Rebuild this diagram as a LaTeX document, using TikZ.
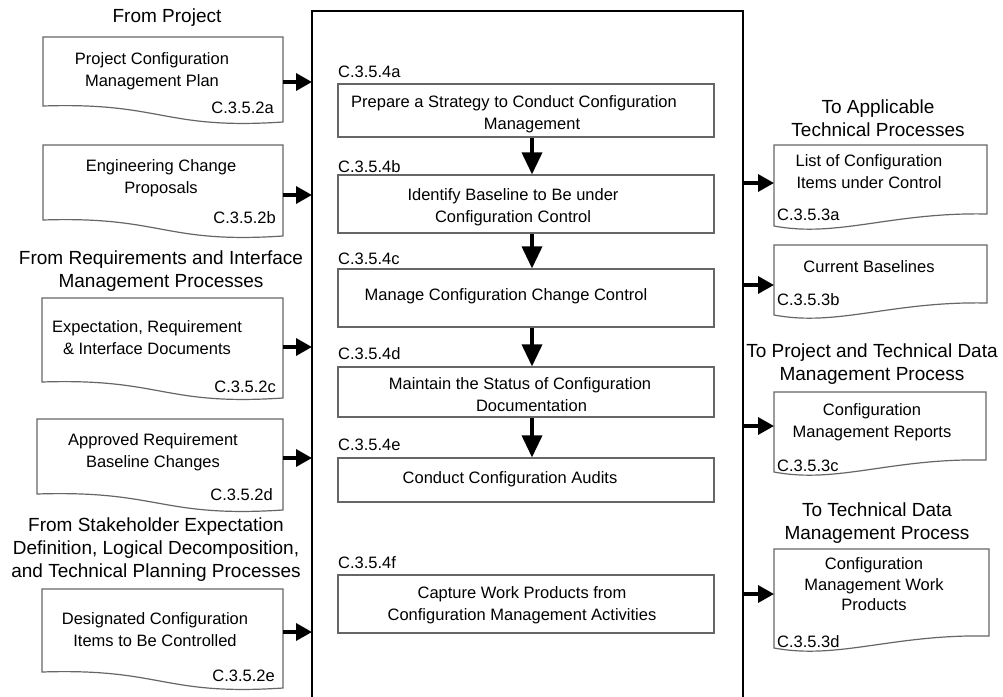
\documentclass[tikz,border=0pt]{standalone}
\usepackage{fontspec}
\setmainfont{Liberation Sans}
\usetikzlibrary{arrows.meta,calc}
\tikzset{
 area/.style={inner sep=0pt, outer sep=0pt, anchor=north west, draw=none},
 docline/.style={draw=black!60, line width=1.2pt, fill=white},
 pbox/.style={draw=black!60, line width=1.2pt, inner sep=0pt, minimum width=376pt},
 txt/.style={font=\fontsize{16.5}{22}\selectfont, align=center, inner sep=0pt, text=black},
 head/.style={font=\fontsize{19}{23}\selectfont, align=center, inner sep=0pt, text=black},
 code/.style={font=\fontsize{16.5}{20}\selectfont, inner sep=0pt, text=black},
 arr/.style={line width=3.5pt, -{Triangle[length=16pt,width=17pt]}},
 iarr/.style={line width=3.5pt, -{Triangle[length=22pt,width=20pt]}},
}
\newcommand{\leftdoc}[1]{\draw[docline] (#1.south west) -- (#1.north west) -- (#1.north east) -- ($(#1.south east)+(0,16)$) .. controls ($(#1.south)+(0,24)$) and ($(#1.south)+(0,-4)$) .. (#1.south west) -- cycle;}
\newcommand{\rightdoc}[1]{\draw[docline] (#1.south west) -- (#1.north west) -- (#1.north east) -- ($(#1.south east)+(0,-12)$) .. controls ($(#1.south west)!0.55!(#1.south east)+(0,-14)$) and ($(#1.south west)!0.3!(#1.south east)+(0,12)$) .. (#1.south west) -- cycle;}
\begin{document}
\begin{tikzpicture}[x=1pt,y=-1pt]
\useasboundingbox[fill=white] (0,0) rectangle (1003,696);

% main frame
\node[area, minimum width=431pt, minimum height=700pt] (main) at (312,11) {};
\draw[line width=2pt] (main.south west) -- (main.north west) -- (main.north east) -- (main.south east);

% process boxes
\node[pbox, minimum height=53pt] (pa) at (526,110.5) {};
\node[pbox, minimum height=58pt] (pb) at (526,204) {};
\node[pbox, minimum height=58pt] (pc) at (526,298) {};
\node[pbox, minimum height=50pt] (pd) at (526,392) {};
\node[pbox, minimum height=44pt] (pe) at (526,480) {};
\node[pbox, minimum height=58pt] (pf) at (526,604) {};

\node[txt] (pat) at (514,114.5) {Prepare a Strategy to Conduct Configuration\\\hspace*{36pt}Management};
\node[txt] (pbt) at (513,207.5) {Identify Baseline to Be under\\Configuration Control};
\node[txt] (pct) at (506,296) {Manage Configuration Change Control};
\node[txt] (pdt) at (520,395) {Maintain the Status of Configuration\\\hspace*{23pt}Documentation};
\node[txt] (pet) at (510,479) {Conduct Configuration Audits};
\node[txt] (pft) at (522,605) {Capture Work Products from\\Configuration Management Activities};

\node[code, anchor=west] (pal) at (338,72) {C.3.5.4a};
\node[code, anchor=west] (pbl) at (338,167) {C.3.5.4b};
\node[code, anchor=west] (pcl) at (338,259) {C.3.5.4c};
\node[code, anchor=west] (pdl) at (338,354) {C.3.5.4d};
\node[code, anchor=west] (pel) at (338,445) {C.3.5.4e};
\node[code, anchor=west] (pfl) at (338,563) {C.3.5.4f};

\coordinate (ax) at (532,0);
\draw[iarr] (pa.south -| ax) -- (pb.north -| ax);
\draw[iarr] (pb.south -| ax) -- (pc.north -| ax);
\draw[iarr] (pc.south -| ax) -- (pd.north -| ax);
\draw[iarr] (pd.south -| ax) -- (pe.north -| ax);

% left documents
\node[area, minimum width=240pt, minimum height=69pt] (da) at (43,37) {};
\node[area, minimum width=240pt, minimum height=75pt] (db) at (43,145) {};
\node[area, minimum width=241pt, minimum height=84pt] (dc) at (42,298) {};
\node[area, minimum width=246pt, minimum height=75pt] (dd) at (37,419) {};
\node[area, minimum width=241pt, minimum height=83pt] (de) at (42,589) {};
\leftdoc{da}\leftdoc{db}\leftdoc{dc}\leftdoc{dd}\leftdoc{de}

\node[txt] (dat) at (152,71) {Project Configuration\\Management Plan};
\node[txt] (dbt) at (161,178) {Engineering Change\\Proposals};
\node[txt] (dct) at (147,338) {Expectation, Requirement\\\& Interface Documents};
\node[txt] (ddt) at (153,452) {Approved Requirement\\Baseline Changes};
\node[txt] (det) at (155,630) {Designated Configuration\\Items to Be Controlled};

\node[code, anchor=east] (dal) at (274,108) {C.3.5.2a};
\node[code, anchor=east] (dbl) at (276,218) {C.3.5.2b};
\node[code, anchor=east] (dcl) at (276,387) {C.3.5.2c};
\node[code, anchor=east] (ddl) at (273,495) {C.3.5.2d};
\node[code, anchor=east] (del) at (275,676) {C.3.5.2e};

\node[head] (h1) at (167,18) {From Project};
\node[head] (h2) at (161,271.5) {From Requirements and Interface\\Management Processes};
\node[head] (h3) at (156,549.5) {From Stakeholder Expectation\\Definition, Logical Decomposition,\\and Technical Planning Processes};

\coordinate (ya) at (0,82);
\coordinate (yb) at (0,195);
\coordinate (yc) at (0,347);
\coordinate (yd) at (0,458);
\coordinate (ye) at (0,632);
\draw[arr] (da.east |- ya) -- (main.west |- ya);
\draw[arr] (db.east |- yb) -- (main.west |- yb);
\draw[arr] (dc.east |- yc) -- (main.west |- yc);
\draw[arr] (dd.east |- yd) -- (main.west |- yd);
\draw[arr] (de.east |- ye) -- (main.west |- ye);

% right documents
\node[area, minimum width=213pt, minimum height=81pt] (ra) at (774,145) {};
\node[area, minimum width=213pt, minimum height=70pt] (rb) at (774,245) {};
\node[area, minimum width=212pt, minimum height=80pt] (rc) at (774,392) {};
\node[area, minimum width=215pt, minimum height=99pt] (rd) at (774,549) {};
\rightdoc{ra}\rightdoc{rb}\rightdoc{rc}\rightdoc{rd}

\node[txt] (rat) at (869,171.5) {List of Configuration\\Items under Control};
\node[txt] (rbt) at (869,267) {Current Baselines};
\node[txt] (rct) at (872,422) {Configuration\\Management Reports};
\node[txt, font=\fontsize{16.5}{20.5}\selectfont] (rdt) at (874,584.5) {Configuration\\Management Work\\Products};

\node[code, anchor=west] (ral) at (777,215) {C.3.5.3a};
\node[code, anchor=west] (rbl) at (777,300) {C.3.5.3b};
\node[code, anchor=west] (rcl) at (777,466) {C.3.5.3c};
\node[code, anchor=west] (rdl) at (777,642) {C.3.5.3d};

\node[head] (h4) at (878,118.5) {To Applicable\\Technical Processes};
\node[head] (h5) at (872,364) {To Project and Technical Data\\Management Process};
\node[head] (h6) at (877,523) {To Technical Data\\Management Process};

\coordinate (yra) at (0,183);
\coordinate (yrb) at (0,285);
\coordinate (yrc) at (0,426);
\coordinate (yrd) at (0,594);
\draw[arr] (main.east |- yra) -- (ra.west |- yra);
\draw[arr] (main.east |- yrb) -- (rb.west |- yrb);
\draw[arr] (main.east |- yrc) -- (rc.west |- yrc);
\draw[arr] (main.east |- yrd) -- (rd.west |- yrd);
\end{tikzpicture}
\end{document}
